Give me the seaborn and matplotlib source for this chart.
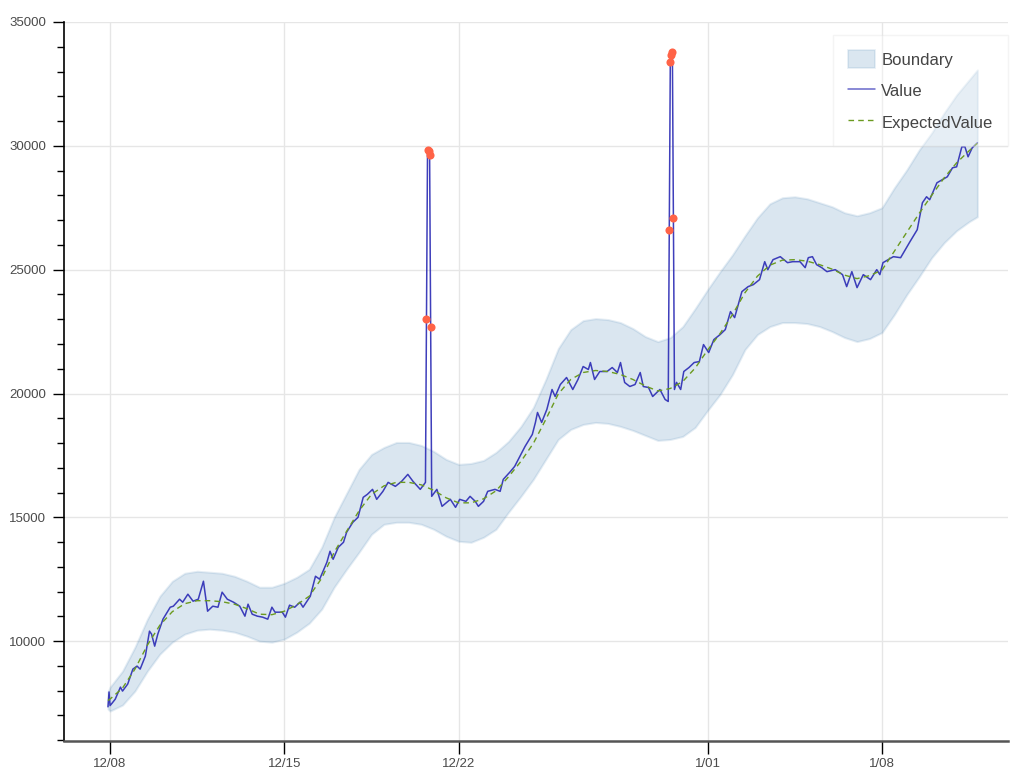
import numpy as np
import pandas as pd
import matplotlib
matplotlib.use("Agg")
import matplotlib.pyplot as plt
from matplotlib.patches import Patch
from matplotlib.lines import Line2D
from matplotlib.ticker import MultipleLocator, NullFormatter
import seaborn as sns

# Hourly series, hours counted from 12/08 00:00
START = pd.Timestamp("2018-12-08 00:00")

value_hours = [
    -2, -1, 0, 2, 5, 10, 12, 17, 22, 26, 29, 34, 38, 40, 43, 46, 51, 58, 61, 67,
    70, 75, 80, 85, 90, 94, 99, 104, 108, 113, 119, 125, 130, 133, 137, 142, 147,
    152, 156, 159, 166, 169, 173, 178, 183, 186, 193, 198, 202, 209, 212, 215,
    220, 225, 228, 234, 239, 244, 248, 253, 257, 263, 268, 275, 281, 287, 292,
    299, 304, 310, 315, 320, 328, 333, 337, 343, 347, 352, 355, 360, 364, 371,
    376, 379, 386, 390, 395, 400, 407, 410, 412, 416, 421, 426, 429, 434, 440,
    446, 451, 456, 461, 463, 467, 472, 479, 484, 489, 492, 496, 501, 506, 511,
    514, 519, 523, 530, 535, 538, 544, 546, 550, 553, 558, 563, 568, 572, 577,
    582, 588, 593, 598, 602, 609, 615, 620, 626, 631, 634, 639, 646, 653, 658,
    665, 670, 673, 677, 681, 686, 691, 699, 706, 710, 715, 720, 726, 733, 739,
    742, 745, 755, 762, 771, 778, 783, 787, 790, 797, 807, 812, 816, 821, 824,
    827, 831, 836,
]
value_values = [
    7350, 7950, 7400, 7500, 7660, 8145, 7985, 8268, 8873, 8994, 8873, 9397, 10405,
    10284, 9800, 10284, 10889, 11372, 11413, 11695, 11574, 11897, 11615, 11695,
    12421, 11211, 11413, 11372, 11978, 11695, 11574, 11413, 11010, 11494, 11090,
    11010, 10970, 10889, 11372, 11171, 11171, 10970, 11454, 11372, 11574, 11372,
    11816, 12622, 12502, 13187, 13630, 13308, 13792, 13994, 14397, 14800, 15001,
    15808, 15929, 16130, 15727, 16050, 16412, 16251, 16453, 16735, 16453, 16130,
    16412, 15848, 16130, 15445, 15727, 15404, 15727, 15646, 15848, 15646, 15445,
    15646, 16050, 16130, 16050, 16533, 16856, 17058, 17461, 17864, 18348, 18832,
    19235, 18832, 19356, 20162, 19880, 20364, 20646, 20162, 20566, 21090, 20969,
    21251, 20566, 20888, 20888, 21049, 20848, 21251, 20445, 20283, 20364, 20848,
    20283, 20243, 19880, 20162, 19759, 19678, 20162, 20450, 20162, 20888, 21049,
    21251, 21291, 21976, 21654, 22178, 22380, 22581, 23307, 23065, 24114, 24315,
    24396, 24598, 25323, 25001, 25404, 25525, 25283, 25323, 25323, 25081, 25484,
    25525, 25202, 25081, 24920, 25001, 24799, 24315, 24920, 24275, 24799, 24598,
    25001, 24799, 25283, 25525, 25484, 26130, 26614, 27702, 27944, 27823, 28508,
    28750, 29113, 29153, 29960, 29960, 29557, 29920, 30121,
]

# Points flagged as anomalies
anomaly_hours = [305, 306, 307, 308, 309, 539, 540, 541, 542, 543]
anomaly_values = [23000, 29850, 29800, 29650, 22700,
                  26614, 33387, 33669, 33790, 27097]

# Expected value and its boundary, sampled every 12 hours
band_hours = [-2] + list(range(0, 829, 12)) + [836]
expected_values = [
    7603, 7663, 8107, 8873, 9841, 10647, 11191, 11514, 11635, 11635,
    11594, 11493, 11312, 11090, 11070, 11211, 11473, 11816, 12542, 13589,
    14437, 15264, 15929, 16271, 16413, 16413, 16312, 16090, 15788, 15586,
    15586, 15748, 16070, 16634, 17259, 17985, 18953, 19981, 20565, 20848,
    20929, 20888, 20767, 20566, 20303, 20102, 20203, 20485, 21029, 21755,
    22423, 23186, 24073, 24739, 25182, 25384, 25404, 25343, 25202, 25021,
    24779, 24638, 24759, 24981, 25747, 26513, 27279, 28005, 28710, 29315,
    29799, 30101,
]
upper_values = [
    7945, 8147, 8792, 9759, 10889, 11816, 12421, 12743, 12824, 12784,
    12743, 12622, 12421, 12179, 12179, 12340, 12582, 12905, 13792, 14998,
    15969, 16937, 17541, 17823, 18025, 18025, 17904, 17662, 17340, 17138,
    17178, 17300, 17622, 18066, 18670, 19437, 20565, 21815, 22581, 22944,
    23025, 22985, 22864, 22622, 22299, 22097, 22259, 22702, 23428, 24194,
    24920, 25605, 26371, 27097, 27662, 27904, 27944, 27863, 27702, 27541,
    27299, 27178, 27299, 27501, 28307, 29033, 29839, 30524, 31331, 32057,
    32661, 33065,
]
lower_values = [
    7260, 7179, 7421, 7986, 8792, 9477, 9961, 10284, 10445, 10486,
    10445, 10364, 10203, 10001, 9961, 10082, 10364, 10727, 11292, 12179,
    12905, 13590, 14316, 14719, 14800, 14800, 14719, 14517, 14235, 14033,
    13993, 14195, 14517, 15202, 15848, 16533, 17340, 18146, 18549, 18751,
    18832, 18791, 18670, 18509, 18307, 18106, 18146, 18267, 18630, 19315,
    19961, 20767, 21775, 22380, 22702, 22864, 22864, 22823, 22702, 22501,
    22259, 22097, 22218, 22461, 23187, 23993, 24719, 25485, 26089, 26573,
    26936, 27137,
]

tick_dates = ["2018-12-08", "2018-12-15", "2018-12-22", "2019-01-01", "2019-01-08"]
tick_labels = ["12/08", "12/15", "12/22", "1/01", "1/08"]


def to_time(hours):
    return START + pd.to_timedelta(hours, unit="h")


series = pd.DataFrame({
    "time": to_time(value_hours + anomaly_hours),
    "Value": value_values + anomaly_values,
}).sort_values("time")
anomalies = pd.DataFrame({"time": to_time(anomaly_hours), "Value": anomaly_values})
band = pd.DataFrame({
    "time": to_time(band_hours),
    "ExpectedValue": expected_values,
    "upper": upper_values,
    "lower": lower_values,
})

sns.set_theme(style="white")
plt.rcParams["font.family"] = ["Liberation Sans", "DejaVu Sans"]

BAND_FACE = (70 / 255, 130 / 255, 180 / 255, 0.2)
BAND_EDGE = (70 / 255, 130 / 255, 180 / 255, 0.14)
VALUE_COLOR = "#2a2ab4"
EXPECTED_COLOR = "#6b9a1f"

fig = plt.figure(figsize=(10.1, 7.72), dpi=100)
ax = fig.add_axes([64 / 1010, 31 / 772, 944 / 1010, 719 / 772])

ax.fill_between(band["time"], band["lower"], band["upper"],
                facecolor=BAND_FACE, edgecolor=BAND_EDGE, linewidth=1.5, zorder=1)

sns.lineplot(data=series, x="time", y="Value", estimator=None, sort=True,
             color=VALUE_COLOR, linewidth=1.1, alpha=0.9, ax=ax, zorder=3)
sns.lineplot(data=band, x="time", y="ExpectedValue", estimator=None, sort=True,
             color=EXPECTED_COLOR, linewidth=1.0, dashes=False, ax=ax, zorder=4)
ax.lines[-1].set_dashes((4, 3))
sns.scatterplot(data=anomalies, x="time", y="Value", color="tomato", s=34,
                linewidth=0, ax=ax, zorder=5)

ax.set_xlim(START - pd.Timedelta(hours=44.4), START + pd.Timedelta(hours=865.5))
ax.set_ylim(5970, 35000)

ax.set_xticks(pd.to_datetime(tick_dates))
ax.set_xticklabels(tick_labels)
ax.yaxis.set_major_locator(MultipleLocator(5000))
ax.yaxis.set_minor_locator(MultipleLocator(1000))
ax.yaxis.set_minor_formatter(NullFormatter())

ax.grid(True, which="major", color="#e6e6e6", linewidth=1)
ax.set_axisbelow(True)
ax.set_xlabel("")
ax.set_ylabel("")

ax.tick_params(which="both", left=True, bottom=True, direction="out",
               colors="black", labelcolor="#4a4a4a", labelsize=9.5)
ax.tick_params(axis="y", which="major", length=8, width=1, pad=5)
ax.tick_params(axis="y", which="minor", length=5, width=1)
ax.tick_params(axis="x", which="major", length=9, width=1, pad=3)

for side in ("top", "right"):
    ax.spines[side].set_visible(False)
ax.spines["left"].set_color("black")
ax.spines["left"].set_linewidth(1.2)
ax.spines["bottom"].set_color("#555555")
ax.spines["bottom"].set_linewidth(1.8)

handles = [
    Patch(facecolor=BAND_FACE, edgecolor=BAND_EDGE, linewidth=1.2),
    Line2D([], [], color=VALUE_COLOR, linewidth=1.1, alpha=0.7),
    Line2D([], [], color=EXPECTED_COLOR, linewidth=1.0, dashes=(4, 3)),
]
leg = ax.legend(handles, ["Boundary", "Value", "ExpectedValue"],
                loc="upper right", bbox_to_anchor=(0.9995, 0.982),
                borderaxespad=0.0, framealpha=0.35,
                frameon=True, fancybox=False, fontsize=12,
                handlelength=1.6, handleheight=1.3, labelspacing=0.8,
                handletextpad=0.4, borderpad=0.9, labelcolor="#444444")
leg.get_frame().set_edgecolor((0.88, 0.88, 0.88, 1.0))
leg.get_frame().set_linewidth(1)

fig.savefig("out.png", dpi=100)
